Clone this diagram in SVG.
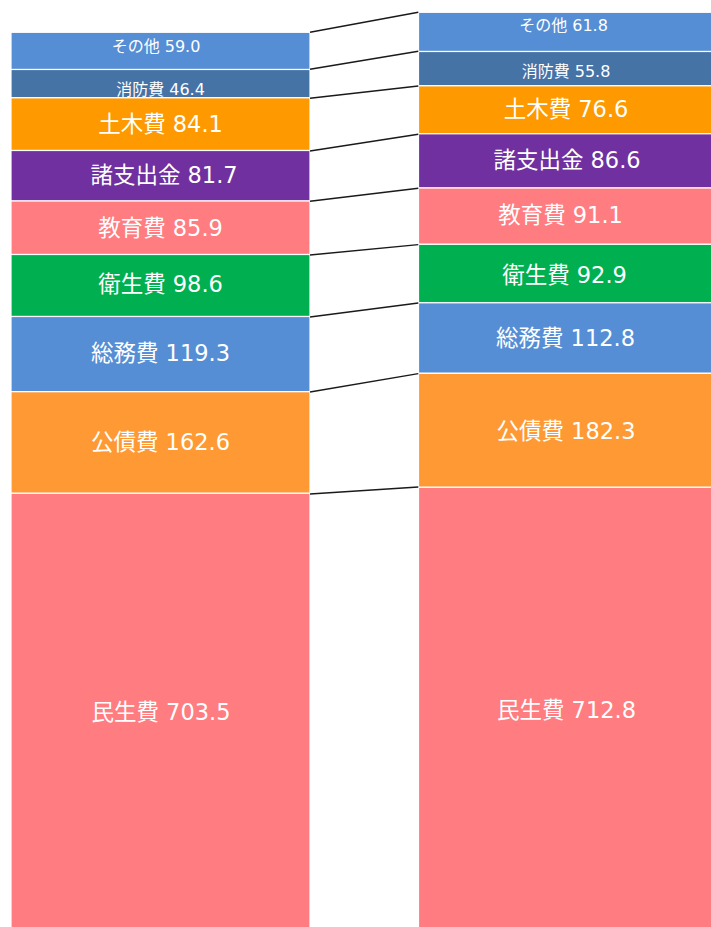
<svg xmlns="http://www.w3.org/2000/svg" width="711" height="927" viewBox="0 0 711 927">
<style>
rect{stroke:#fff;stroke-width:1.2}
text{font-family:"DejaVu Sans","Noto Sans CJK JP",sans-serif;fill:#fff;text-anchor:middle}
.l{font-size:22.5px}
.s{font-size:16px}
.c{stroke:#1a1a1a;stroke-width:1.4;fill:none}
.blue{fill:#558ED5}.steel{fill:#4673A6}.orange{fill:#FF9900}.purple{fill:#7030A0}.pink{fill:#FF7C80}.green{fill:#00B050}.orange2{fill:#FF9933}
</style>
<rect x="0" y="0" width="711" height="927" fill="#fff" stroke="none"/>
<g id="left">
<g id="L-sonota"><rect class="blue" x="11" y="32.3" width="299" height="37.2"/><text class="s" x="156" y="51.5">その他 59.0</text></g>
<g id="L-shobo"><rect class="steel" x="11" y="69.5" width="299" height="28.3"/><text class="s" x="160.5" y="94.5">消防費 46.4</text></g>
<g id="L-doboku"><rect class="orange" x="11" y="97.8" width="299" height="52.7"/><text class="l" x="160.5" y="131.5">土木費 84.1</text></g>
<g id="L-shoshi"><rect class="purple" x="11" y="150.5" width="299" height="50.5"/><text class="l" x="164" y="182.5">諸支出金 81.7</text></g>
<g id="L-kyoiku"><rect class="pink" x="11" y="201" width="299" height="53.5"/><text class="l" x="160.5" y="235.5">教育費 85.9</text></g>
<g id="L-eisei"><rect class="green" x="11" y="254.5" width="299" height="62"/><text class="l" x="160.5" y="292">衛生費 98.6</text></g>
<g id="L-somu"><rect class="blue" x="11" y="316.5" width="299" height="75.2"/><text class="l" x="160.5" y="361">総務費 119.3</text></g>
<g id="L-kosai"><rect class="orange2" x="11" y="391.7" width="299" height="101.6"/><text class="l" x="160.5" y="450">公債費 162.6</text></g>
<g id="L-minsei"><rect class="pink" x="11" y="493.3" width="299" height="445"/><text class="l" x="161" y="720">民生費 703.5</text></g>
</g>
<g id="right">
<g id="R-sonota"><rect class="blue" x="418.5" y="12.3" width="294" height="39.2"/><text class="s" x="563.5" y="31">その他 61.8</text></g>
<g id="R-shobo"><rect class="steel" x="418.5" y="51.5" width="294" height="34.3"/><text class="s" x="566" y="76.5">消防費 55.8</text></g>
<g id="R-doboku"><rect class="orange" x="418.5" y="85.8" width="294" height="48"/><text class="l" x="566" y="117">土木費 76.6</text></g>
<g id="R-shoshi"><rect class="purple" x="418.5" y="133.8" width="294" height="54.2"/><text class="l" x="567" y="167.5">諸支出金 86.6</text></g>
<g id="R-kyoiku"><rect class="pink" x="418.5" y="188" width="294" height="56.3"/><text class="l" x="560.5" y="223">教育費 91.1</text></g>
<g id="R-eisei"><rect class="green" x="418.5" y="244.3" width="294" height="58.5"/><text class="l" x="564.5" y="282.5">衛生費 92.9</text></g>
<g id="R-somu"><rect class="blue" x="418.5" y="302.8" width="294" height="70.5"/><text class="l" x="565.5" y="345.5">総務費 112.8</text></g>
<g id="R-kosai"><rect class="orange2" x="418.5" y="373.3" width="294" height="114"/><text class="l" x="566" y="438.5">公債費 182.3</text></g>
<g id="R-minsei"><rect class="pink" x="418.5" y="487.3" width="294" height="451"/><text class="l" x="566.5" y="718">民生費 712.8</text></g>
</g>
<g id="connectors">
<line class="c" x1="310" y1="32.3" x2="418.3" y2="12.3"/>
<line class="c" x1="310" y1="69.3" x2="418.3" y2="51.3"/>
<line class="c" x1="310" y1="98.2" x2="418.3" y2="86"/>
<line class="c" x1="310" y1="151" x2="418.3" y2="134.2"/>
<line class="c" x1="310" y1="201.3" x2="418.3" y2="188.3"/>
<line class="c" x1="310" y1="255" x2="418.3" y2="244.6"/>
<line class="c" x1="310" y1="317" x2="418.3" y2="303"/>
<line class="c" x1="310" y1="392" x2="418.3" y2="373.6"/>
<line class="c" x1="310" y1="494" x2="418.3" y2="487"/>
</g>
</svg>
